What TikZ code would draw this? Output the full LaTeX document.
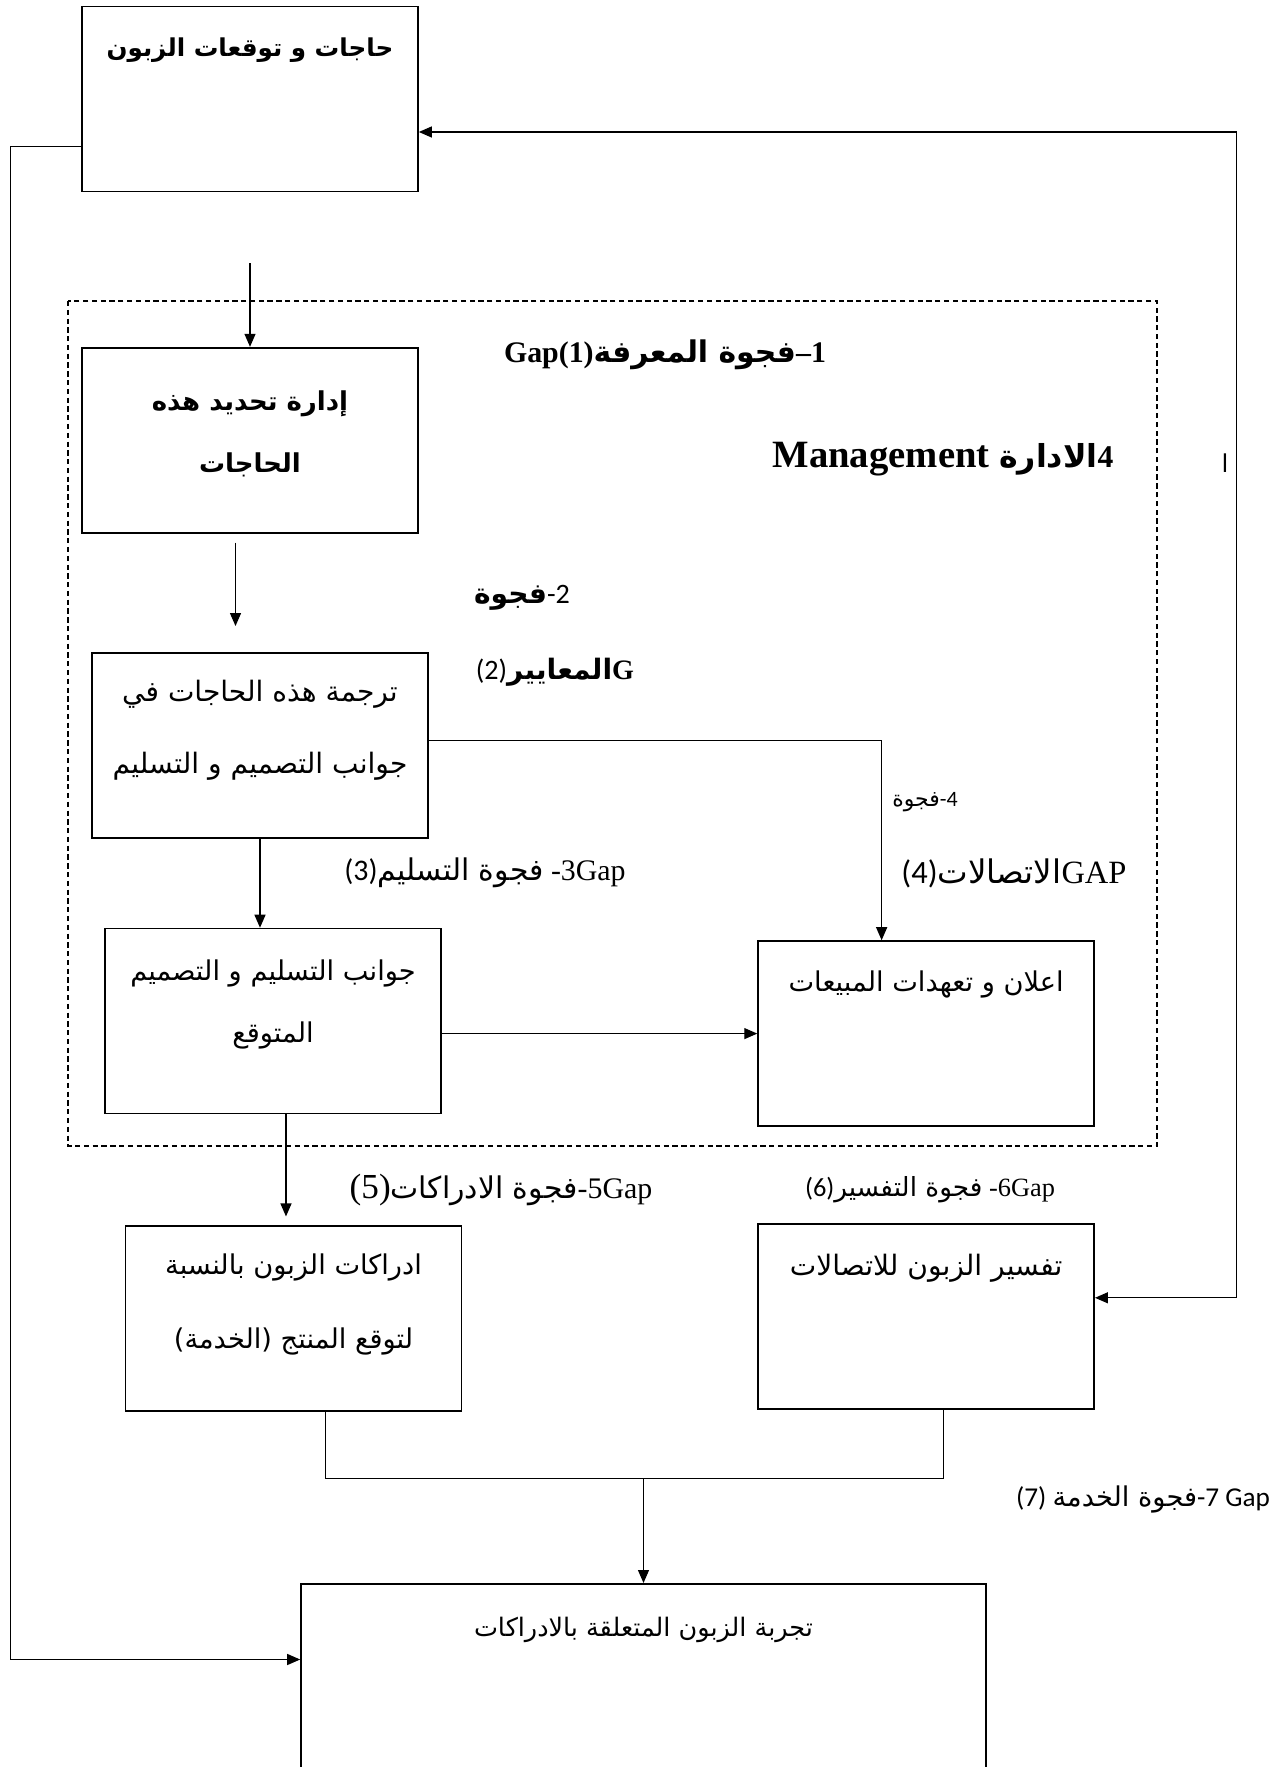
\documentclass[tikz,border=0pt]{standalone}
\usepackage{fontspec}
\setmainfont{Liberation Serif}
\newfontfamily\arabicfont[Script=Arabic]{DejaVu Sans}
\newfontfamily\calfont{Carlito}
\TeXXeTstate=1
\usetikzlibrary{arrows.meta, calc, positioning}
\newcommand{\AR}[1]{{\arabicfont\beginR #1\endR}}

\begin{document}
\begin{tikzpicture}[
    x=0.02cm, y=-0.02cm,
    box/.style={rectangle, draw, line width=1pt, minimum width=6.72cm, minimum height=3.7cm, inner sep=0pt},
    boxtext/.style={anchor=north, align=center, inner sep=0pt, font=\arabicfont\fontsize{15.5}{38}\selectfont},
    gaplabel/.style={inner sep=0pt, font=\fontsize{17}{19}\selectfont},
    frame/.style={dash pattern=on 3pt off 2pt, line width=0.6pt},
    arrow/.style={->, line width=0.7pt, >={Triangle[length=0.26cm, width=0.22cm]}},
    link/.style={line width=0.7pt}
]
    \useasboundingbox (0,0) rectangle (1272,1767);

    % الزبون
    \node[box] (needs) at (250,99) {};
    \node[boxtext, font=\arabicfont\bfseries\fontsize{14}{38}\selectfont] (needs-t) at ([yshift=-0.64cm]needs.north) {\AR{حاجات و توقعات الزبون}};

    % منطقة الادارة
    \draw[frame] (68,301) rectangle (1157,1146);

    \node[box, below=3.09cm of needs] (identify) {};
    \node[boxtext, font=\arabicfont\bfseries\fontsize{14.8}{35}\selectfont] (identify-t) at ([yshift=-0.88cm]identify.north) {\AR{إدارة تحديد هذه}\\\AR{الحاجات}};

    \node[box, below=2.37cm of identify, xshift=0.2cm] (translate) {};
    \node[boxtext, font=\arabicfont\fontsize{16}{41}\selectfont] (translate-t) at ([yshift=-0.56cm]translate.north) {\AR{ترجمة هذه الحاجات في}\\\AR{جوانب التصميم و التسليم}};

    \node[box, below=1.78cm of translate, xshift=0.26cm] (expected) {};
    \node[boxtext, font=\arabicfont\fontsize{15.5}{35}\selectfont] (expected-t) at ([yshift=-0.64cm]expected.north) {\AR{جوانب التسليم و التصميم}\\\AR{المتوقع}};

    \node[box, right=6.31cm of expected, yshift=-0.25cm] (promise) {};
    \node[boxtext] (promise-t) at ([yshift=-0.6cm]promise.north) {\AR{اعلان و تعهدات المبيعات}};

    % خارج الادارة
    \node[box, below=2.22cm of expected, xshift=0.41cm] (perceive) {};
    \node[boxtext, font=\arabicfont\fontsize{15.5}{42}\selectfont] (perceive-t) at ([yshift=-0.56cm]perceive.north) {\AR{ادراكات الزبون بالنسبة}\\\AR{لتوقع المنتج (الخدمة)}};

    \node[box, below=1.93cm of promise] (interpret) {};
    \node[boxtext, font=\arabicfont\fontsize{16}{38}\selectfont] (interpret-t) at ([yshift=-0.6cm]interpret.north) {\AR{تفسير الزبون للاتصالات}};

    \node[box, minimum width=13.7cm, minimum height=4.4cm, anchor=north] (experience) at (643.5,1583) {};
    \node[boxtext, font=\arabicfont\fontsize{14.5}{38}\selectfont] (experience-t) at ([yshift=-0.68cm]experience.north) {\AR{تجربة الزبون المتعلقة بالادراكات}};

    % الفجوات
    \node[gaplabel, font=\bfseries\fontsize{17}{19}\selectfont] (gap1) at (665,355) {Gap(1)\AR{فجوة المعرفة}–1};
    \node[gaplabel, font=\bfseries\fontsize{22}{24}\selectfont] (mgmt) at (943,459) {Management {\fontsize{18}{20}\selectfont\AR{الادارة}4}};
    \node[gaplabel, font=\fontsize{16}{18}\selectfont] (gap2a) at (522,598) {\AR{\bfseries فجوة}{\calfont -2}};
    \node[gaplabel, font=\fontsize{16}{18}\selectfont] (gap2b) at (555,672) {{\calfont (2)}\AR{\bfseries المعايير}{\bfseries G}};
    \node[gaplabel] (gap3) at (485,873) {{\calfont (3)}\AR{فجوة التسليم} -3Gap};
    \node[gaplabel, font=\fontsize{12.5}{14}\selectfont] (gap4a) at (925,802) {\AR{فجوة}{\calfont -4}};
    \node[gaplabel, font=\fontsize{18.5}{20}\selectfont] (gap4b) at (1014,873) {{\calfont (4)}\AR{الاتصالات}GAP};
    \node[gaplabel] (gap5) at (501,1190) {{\fontsize{20}{20}\selectfont(5)}\AR{فجوة الادراكات}-5Gap};
    \node[gaplabel, font=\fontsize{15}{17}\selectfont] (gap6) at (930,1190) {{\calfont (6)}\AR{فجوة التفسير} -6Gap};
    \node[gaplabel, font=\calfont\fontsize{15.5}{17}\selectfont] (gap7) at (1143,1499) {(7) \AR{فجوة الخدمة}-7 Gap};
    \node[gaplabel, font=\arabicfont\fontsize{14}{16}\selectfont] (mark) at (1225,463) {\AR{ا}};

    % الاسهم
    \draw[arrow, shorten <=1.42cm] (needs.south) -- (identify.north);
    \draw[arrow, shorten <=0.18cm, shorten >=0.52cm] ([xshift=-0.29cm]identify.south) -- ([xshift=-0.29cm]identify.south |- translate.north);
    \draw[arrow] (translate.south) -- (translate.south |- expected.north);
    \draw[arrow] ([yshift=0.1cm]translate.east) -| ([xshift=-0.89cm]promise.north);
    \draw[arrow] (expected.east |- promise.west) -- (promise.west);
    \draw[arrow, shorten >=0.18cm] ([xshift=0.26cm]expected.south) -- ([xshift=0.26cm]expected.south |- perceive.north);

    \coordinate (join) at ($(perceive.south -| experience.north)+(0,66)$);
    \draw[link] ([xshift=0.64cm]perceive.south) |- (join) -| ([xshift=0.34cm]interpret.south);
    \draw[arrow] (join) -- (experience.north);

    \draw[arrow] ([yshift=-0.95cm]needs.west) -| ([xshift=-5.8cm]experience.north west) |- ([yshift=-1.53cm]experience.north west);
    \draw[arrow, <->] ([yshift=-0.66cm]needs.east) -- ++(818,0) |- ([yshift=0.38cm]interpret.east);
\end{tikzpicture}
\end{document}
